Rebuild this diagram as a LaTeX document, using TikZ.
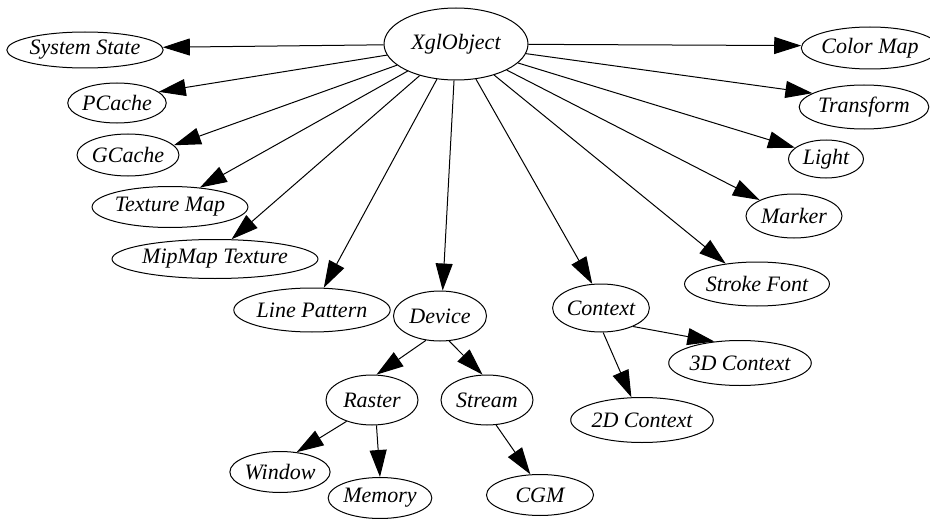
\documentclass[tikz,border=0pt]{standalone}
\usepackage{fontspec}
\setmainfont{Liberation Serif}
\usepackage{tikz}
\usetikzlibrary{shapes.geometric,arrows.meta}
\tikzset{
    obj/.style={
        ellipse,                  % graphviz-like oval
        draw,                     % plain black outline
        line width=1pt,
        minimum width=#1,         % width given per node
        minimum height=44pt,
        inner sep=0pt,
        font=\itshape\fontsize{22}{22}\selectfont
    },
    isa/.style={
        line width=1pt,
        -{Triangle[length=27pt,width=17pt]} % big filled head
    }
}

\begin{document}
\begin{tikzpicture}[x=1pt,y=-1pt]
    \useasboundingbox (0,0) rectangle (930,519);
    % root
    \node[obj=144pt, minimum height=72pt] (xgl) at (456,44) {XglObject};
    % left fan
    \node[obj=145pt, minimum height=36pt] (sysstate) at (85,50) {System State};
    \node[obj=94pt, minimum height=40pt] (pcache) at (117,103) {PCache};
    \node[obj=94pt, minimum height=42pt] (gcache) at (128,155) {GCache};
    \node[obj=146pt, minimum height=41pt] (texmap) at (170,207) {Texture Map};
    \node[obj=166pt, minimum height=39pt] (mipmap) at (215,259) {MipMap Texture};
    \node[obj=134pt] (linepat) at (312,310) {Line Pattern};
    \node[obj=93pt, minimum height=50pt] (device) at (440,316) {Device};
    % right fan
    \node[obj=93pt, minimum height=48pt] (context) at (601,308) {Context};
    \node[obj=121pt] (strokefont) at (757,284) {Stroke Font};
    \node[obj=96pt] (marker) at (794,216) {Marker};
    \node[obj=75pt, minimum height=38pt] (light) at (826,159) {Light};
    \node[obj=112pt] (transform) at (864,107) {Transform};
    \node[obj=117pt, minimum height=42pt] (colormap) at (870,48) {Color Map};
    % device subtree
    \node[obj=92pt, minimum height=50pt] (raster) at (372,400) {Raster};
    \node[obj=92pt, minimum height=50pt] (stream) at (487,400) {Stream};
    \node[obj=91pt, minimum height=41pt] (window) at (280,472) {Window};
    \node[obj=90pt, minimum height=41pt] (memory) at (380,498) {Memory};
    \node[obj=107pt, minimum height=41pt] (cgm) at (540,495) {CGM};
    % context subtree
    \node[obj=121pt, minimum height=45pt] (ctxthree) at (740,363) {3D Context};
    \node[obj=121pt, minimum height=45pt] (ctxtwo) at (642,420) {2D Context};

    % edges leave the root and hit the children off-centre, as dot does
    \foreach \t/\a in {sysstate/2,pcache/15,gcache/12,texmap/33,mipmap/50,
                       linepat/62,device/84,context/110,strokefont/147,
                       marker/155,light/160,transform/165,colormap/178}
        \draw[isa] (xgl) -- (\t.\a);
    \draw[isa] (device.-120) -- (raster.80);
    \draw[isa] (device.-70) -- (stream.100);
    \draw[isa] (raster.-140) -- (window.50);
    \draw[isa] (raster.-80) -- (memory.north);
    \draw[isa] (stream.-70) -- (cgm.115);
    \draw[isa] (context.-85) -- (ctxtwo.115);
    \draw[isa] (context.-30) -- (ctxthree.140);
\end{tikzpicture}
\end{document}
